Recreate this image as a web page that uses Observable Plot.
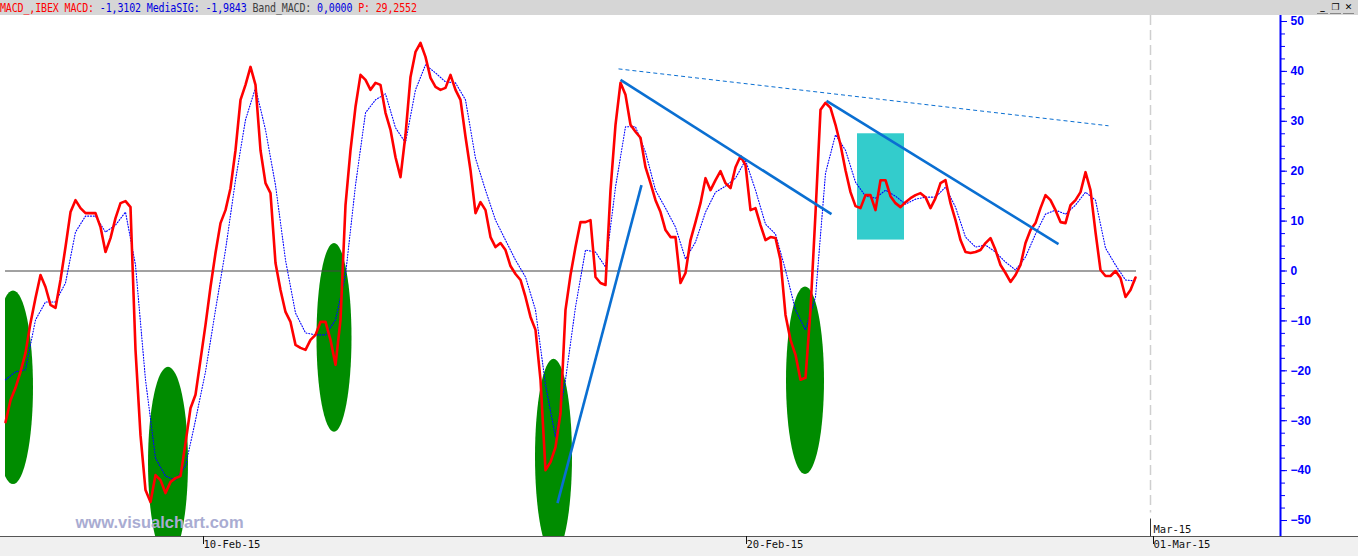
<!DOCTYPE html>
<html><head><meta charset="utf-8">
<script src="https://cdn.jsdelivr.net/npm/d3@7"></script>
<script src="https://cdn.jsdelivr.net/npm/@observablehq/plot@0.6"></script>
<style>
html,body{margin:0;padding:0;background:#fff;width:1358px;height:556px;overflow:hidden;position:relative}
#hdr{position:absolute;left:0;top:0;width:1358px;height:15px;background:#d6d6d6;font:10px "DejaVu Sans Mono",monospace;letter-spacing:-0.15px;line-height:15px;white-space:pre}
#hdr .in{display:inline-block;transform:scaleY(1.2);transform-origin:50% 55%}
#btns{position:absolute;top:3px;left:1317px;height:11px;display:flex;gap:2px}
#btns span{display:block;width:11px;height:10px;font:bold 9px "DejaVu Sans",sans-serif;line-height:9px;text-align:center;color:#000;border-bottom:1px solid #888}
#band{position:absolute;left:0;top:536px;width:1358px;height:20px;background:#f0f0f0;border-top:1px solid #555;box-sizing:border-box}
#chart{position:absolute;left:0;top:15px}
</style></head>
<body>
<div id="band"></div>
<div id="hdr"><span class="in"><span style="color:#ff0000">MACD_,IBEX MACD: </span><span style="color:#0000e0">-1,3102 </span><span style="color:#0000e0">MediaSIG: -1,9843 </span><span style="color:#404040">Band_MACD: </span><span style="color:#0000e0">0,0000 </span><span style="color:#ff0000">P: 29,2552</span></span></div>
<div id="btns"><span>_</span><span>&#x2750;</span><span>&#x2715;</span></div>
<div id="chart"></div>
<script>
// MACD values, one sample per bar step (index 0..226)
const macd = [
-30.3,-25.9,-23.4,-20.2,-16.4,-10.4,-5.4,-0.8,-3.2,-6.8,
-7.4,-1.8,4.8,11.8,14.2,12.6,11.6,11.6,11.6,8.8,
3.8,6.6,10.6,13.6,14.0,12.8,-15.8,-32.9,-43.9,-46.3,
-40.9,-41.9,-44.5,-42.3,-41.5,-41.1,-34.5,-27.5,-24.8,-17.8,
-10.8,-3.2,3.6,9.6,12.2,16.6,24.2,34.3,37.3,40.9,
37.3,24.2,17.6,15.6,1.6,-3.8,-8.2,-10.2,-14.8,-15.4,
-15.8,-13.8,-12.8,-10.2,-10.2,-13.8,-18.8,-9.8,13.2,24.2,
32.9,39.3,38.3,36.3,37.7,37.3,31.7,28.3,22.8,18.8,
27.3,38.9,43.9,45.7,42.9,38.7,36.9,36.3,36.7,39.3,
36.3,34.3,26.9,20.2,11.6,13.8,12.2,6.8,4.8,5.6,
4.2,1.0,-0.6,-1.8,-5.2,-9.2,-11.8,-21.8,-39.9,-38.3,
-35.3,-28.5,-7.8,-0.8,4.8,9.8,9.8,10.2,-1.2,-2.4,
-2.8,16.2,29.3,37.7,35.3,29.3,27.9,26.7,20.8,17.6,
14.2,11.8,8.2,6.8,6.8,-2.4,-0.4,6.2,9.8,13.6,
18.6,16.2,18.2,20.0,17.6,16.6,20.8,23.0,21.2,12.2,
12.6,9.2,6.2,6.8,6.6,2.2,-8.8,-13.8,-16.8,-21.8,
-21.4,-7.8,11.6,32.3,33.7,32.7,29.3,25.3,20.2,15.8,
13.0,12.6,15.2,15.2,12.2,18.2,18.2,15.0,13.6,12.8,
13.8,14.6,15.2,15.6,14.8,12.6,14.6,17.6,18.2,13.6,
10.2,6.2,3.8,3.6,3.8,4.2,5.6,6.6,4.2,1.2,
-0.4,-2.2,-0.8,1.2,5.6,8.2,9.6,12.6,15.2,14.2,
12.2,9.8,9.6,13.2,14.2,15.8,19.8,16.2,7.8,0.2,
-1.0,-1.0,0.0,-1.4,-5.2,-3.8,-1.3
];
// MediaSIG (signal) values, one sample every 2 bars
const signal = [
-21.8,-20.2,-19.8,-9.8,-6.2,-6.2,-2.4,7.8,11.0,11.0,
7.8,9.2,11.8,1.2,-21.8,-37.5,-41.1,-41.9,-39.1,-29.9,
-20.2,-7.8,4.2,18.2,30.3,36.7,28.3,17.2,2.2,-8.4,
-12.4,-12.8,-12.8,-9.8,-0.8,17.2,31.7,34.3,35.5,28.7,
25.7,36.3,41.3,39.7,37.9,37.7,34.3,22.6,16.2,10.2,
6.2,2.2,-1.2,-7.8,-22.8,-33.3,-21.8,-7.2,4.2,3.8,
0.8,16.8,28.9,28.9,23.8,16.2,12.6,8.8,2.4,5.8,
11.8,15.8,17.0,18.6,22.2,16.2,9.4,7.4,0.2,-7.8,
-11.8,-5.2,19.6,27.3,24.2,17.8,15.0,14.6,16.2,15.0,
13.4,14.4,14.8,14.8,16.8,12.8,6.8,4.8,5.2,3.8,
1.8,0.2,2.8,7.4,11.4,12.2,11.4,13.2,15.8,14.2,
4.6,1.2,-1.8,-2.0
];
const signalStep = 2;
// date axis
const dateTickPos = [39, 147.6, 229];
const dateTickLabels = ["10-Feb-15", "20-Feb-15", "01-Mar-15"];
const monthMarkPos = [229];
const monthMarkLabel = ["Mar-15"];
// value axis
const yMajorTicks = [-50,-40,-30,-20,-10,0,10,20,30,40,50];
const yMinorTicks = d3.range(-50, 50.01, 2.5);
// green ellipses (bar index / MACD units)
const ellipseCx = [1.6, 32.6, 65.8, 109.7, 160];
const ellipseCy = [-23.4, -38.5, -13.4, -37.3, -22.0];
const ellipseRx = [4, 4, 3.5, 3.7, 3.8];
const ellipseRy = [19.4, 19.2, 18.9, 19.6, 18.8];
// cyan box
const boxX = [170.4, 179.8];
const boxY = [6.2, 27.5];
// trend lines
const trendX1 = [123, 110.4, 164.2];
const trendY1 = [38.3, -46.5, 34.1];
const trendX2 = [165.2, 127.2, 210.6];
const trendY2 = [11.4, 17.2, 5.4];
const dashX = [122.6, 220.6];
const dashY = [40.5, 29.1];

const macdData = macd.map((v, i) => ({i, v}));
const sigData = signal.map((v, j) => ({i: j * signalStep, v}));
const ellipses = ellipseCx.map((cx, k) => ({cx, cy: ellipseCy[k], rx: ellipseRx[k], ry: ellipseRy[k]}));
const trends = trendX1.map((x1, k) => ({x1, y1: trendY1[k], x2: trendX2[k], y2: trendY2[k]}));

function ellipseMark(index, scales, values, dims) {
  const g = d3.create("svg:g");
  const cp = g.append("clipPath").attr("id", "ellclip");
  cp.append("rect").attr("x", dims.marginLeft).attr("y", dims.marginTop)
    .attr("width", dims.width - dims.marginLeft - dims.marginRight)
    .attr("height", dims.height - dims.marginTop - dims.marginBottom);
  g.append("g").attr("clip-path", "url(#ellclip)")
    .selectAll("ellipse").data(ellipses).join("ellipse")
    .attr("cx", d => scales.x(d.cx)).attr("cy", d => scales.y(d.cy))
    .attr("rx", d => Math.abs(scales.x(d.cx + d.rx) - scales.x(d.cx)))
    .attr("ry", d => Math.abs(scales.y(d.cy + d.ry) - scales.y(d.cy)))
    .attr("fill", "#008c00");
  return g.node();
}

const mono = "'DejaVu Sans Mono', monospace";
const chart = Plot.plot({
  width: 1358, height: 541,
  marginLeft: 5, marginRight: 78, marginTop: 0, marginBottom: 20,
  style: {background: "transparent", overflow: "visible"},
  x: {domain: [0, 255]},
  y: {domain: [-53.2, 51.2]},
  marks: [
    ellipseMark,
    Plot.rect([0], {x1: boxX[0], x2: boxX[1], y1: boxY[0], y2: boxY[1], fill: "#33cccc"}),
    Plot.ruleY([0], {x1: 0, x2: 226.2, stroke: "#444", strokeWidth: 1}),
    Plot.ruleX(monthMarkPos, {y1: 51.2, y2: -48.5, stroke: "#cfcfcf", strokeWidth: 1.5, strokeDasharray: "10,5"}),
    Plot.ruleX(monthMarkPos, {y1: -49.7, y2: -53.2, stroke: "#333", strokeWidth: 1}),
    Plot.line(sigData, {x: "i", y: "v", stroke: "#0000ff", strokeWidth: 1.1, strokeDasharray: "1,1.8"}),
    Plot.line(macdData, {x: "i", y: "v", stroke: "#ff0000", strokeWidth: 2.6}),
    Plot.link(trends, {x1: "x1", y1: "y1", x2: "x2", y2: "y2", stroke: "#0a6fd2", strokeWidth: 2.6}),
    Plot.link([0], {x1: dashX[0], y1: dashY[0], x2: dashX[1], y2: dashY[1], stroke: "#0a6fd2", strokeWidth: 1, strokeDasharray: "4,3"}),
    Plot.text(["www.visualchart.com"], {frameAnchor: "bottom-left", dx: 70, dy: -9, lineAnchor: "bottom", textAnchor: "start",
      fill: "#a9acd2", fontWeight: "bold", fontSize: 16.5, fontFamily: "'Liberation Sans', Arial, sans-serif"}),
    Plot.text(monthMarkLabel, {x: monthMarkPos, y: -52.5, dx: 3, lineAnchor: "bottom", textAnchor: "start",
      fill: "#111", fontSize: 10.5, fontFamily: mono}),
    Plot.ruleX([255], {stroke: "#0000ff", strokeWidth: 2}),
    Plot.axisY(yMinorTicks, {anchor: "right", tickSize: 4, tickFormat: () => "", color: "#0000ff"}),
    Plot.axisY(yMajorTicks, {anchor: "right", tickSize: 6, tickPadding: 4, textAnchor: "start", color: "#0000ff",
      fontWeight: "bold", fontSize: 12, fontFamily: "'Liberation Sans', Arial, sans-serif"}),
    Plot.axisX(dateTickPos, {anchor: "bottom", tickSize: 8, tickPadding: -4, textAnchor: "start", dx: 3,
      tickFormat: d => dateTickLabels[dateTickPos.indexOf(d)], color: "#111", fontSize: 10.5, fontFamily: mono})
  ]
});
document.getElementById("chart").appendChild(chart);
</script>
</body></html>
